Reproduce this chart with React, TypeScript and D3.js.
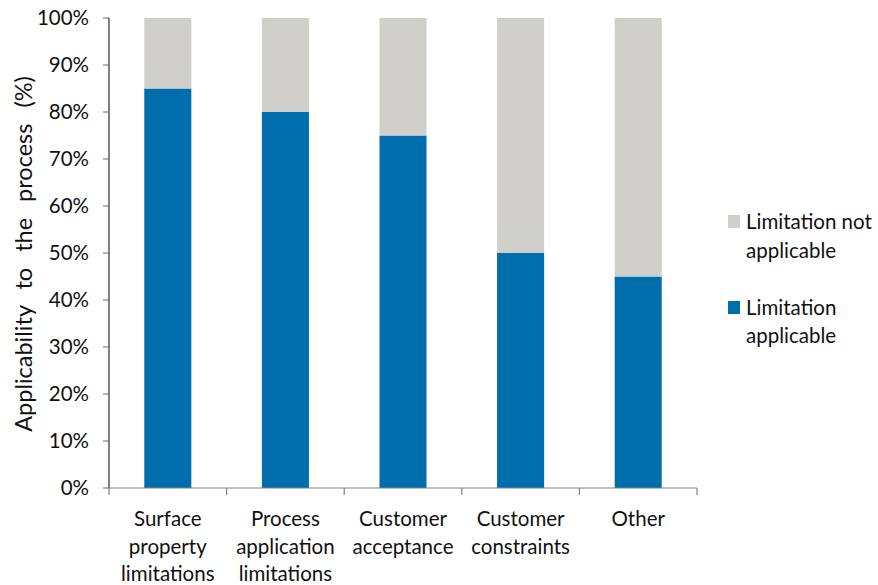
import React from "react";
import * as d3 from "d3";

const categories: string[][] = [
  ["Surface", "property", "limitations"],
  ["Process", "application", "limitations"],
  ["Customer", "acceptance"],
  ["Customer", "constraints"],
  ["Other"],
];
const applicable: number[] = [85, 80, 75, 50, 45];
const notApplicable: number[] = [15, 20, 25, 50, 55];
const yTicks: number[] = [0, 10, 20, 30, 40, 50, 60, 70, 80, 90, 100];
const seriesNames = ["Limitation applicable", "Limitation not applicable"];
const colors = ["#006DAD", "#D0CFCA"];

const FONT = "Lato, 'Open Sans', sans-serif";

export default function App() {
  const W = 878, H = 585;
  const left = 109, right = 697, top = 18, bottom = 488;
  const x = d3.scaleBand<number>().domain(d3.range(categories.length)).range([left, right]).paddingInner(0.6).paddingOuter(0.3);
  const y = d3.scaleLinear().domain([0, 100]).range([bottom, top]);
  const step = (right - left) / categories.length;
  return (
    <svg width={W} height={H} style={{ position: "absolute", left: 0, top: 0, background: "#fff" }} fontFamily={FONT}>
      {categories.map((_, i) => (
        <g key={i}>
          <rect x={x(i)} width={x.bandwidth()} y={y(applicable[i])} height={y(0) - y(applicable[i])} fill={colors[0]} />
          <rect x={x(i)} width={x.bandwidth()} y={y(applicable[i] + notApplicable[i])} height={y(0) - y(notApplicable[i])} fill={colors[1]} />
        </g>
      ))}
      {/* y axis */}
      <line x1={left} x2={left} y1={top} y2={bottom} stroke="#000" strokeWidth={1} />
      {yTicks.map((t) => (
        <g key={t}>
          <line x1={left - 6} x2={left} y1={y(t)} y2={y(t)} stroke="#666" />
          <text x={89} y={y(t)} dy="0.36em" textAnchor="end" fontSize={20.5} fill="#111">{t}%</text>
        </g>
      ))}
      {/* x axis */}
      <line x1={left} x2={right} y1={bottom} y2={bottom} stroke="#808080" strokeWidth={1.2} />
      {d3.range(categories.length + 1).map((i) => (
        <line key={i} x1={left + i * step} x2={left + i * step} y1={bottom} y2={bottom + 7} stroke="#808080" strokeWidth={1.2} />
      ))}
      {categories.map((lines, i) => (
        <text key={i} x={(x(i) as number) + x.bandwidth() / 2} textAnchor="middle" fontSize={20.5} fill="#111">
          {lines.map((l, j) => (
            <tspan key={j} x={(x(i) as number) + x.bandwidth() / 2} y={526 + j * 27.5}>{l}</tspan>
          ))}
        </text>
      ))}
      <text transform={`translate(32,254) rotate(-90)`} textAnchor="middle" fontSize={23.5} fill="#111" wordSpacing={10}>
        Applicability to the process (%)
      </text>
      {/* legend */}
      <rect x={728} y={215} width={12} height={13} fill={colors[1]} />
      <text x={746} fontSize={20.5} fill="#111">
        <tspan x={746} y={229}>Limitation not</tspan>
        <tspan x={746} y={258}>applicable</tspan>
      </text>
      <rect x={728} y={301} width={12} height={13} fill={colors[0]} />
      <text x={746} fontSize={20.5} fill="#111">
        <tspan x={746} y={315}>Limitation</tspan>
        <tspan x={746} y={343}>applicable</tspan>
      </text>
    </svg>
  );
}
